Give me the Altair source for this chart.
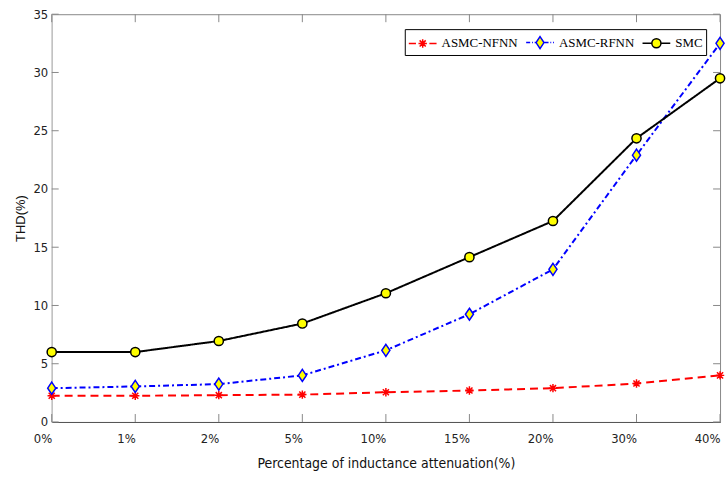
import altair as alt
import pandas as pd

# THD at each level of inductance attenuation, per controller
attenuation = ["0%", "1%", "2%", "5%", "10%", "15%", "20%", "30%", "40%"]
series_names = ["ASMC-NFNN", "ASMC-RFNN", "SMC"]
thd_nfnn = [2.25, 2.25, 2.3, 2.35, 2.55, 2.7, 2.9, 3.3, 4.0]
thd_rfnn = [2.9, 3.05, 3.25, 4.0, 6.15, 9.25, 13.1, 22.9, 32.5]
thd_smc = [6.0, 6.0, 6.95, 8.45, 11.05, 14.15, 17.25, 24.35, 29.5]
y_ticks = [0, 5, 10, 15, 20, 25, 30, 35]

W, H = 672, 410

rows = []
for name, vals in zip(series_names, [thd_nfnn, thd_rfnn, thd_smc]):
    for a, v in zip(attenuation, vals):
        rows.append({"Attenuation": a, "THD": v, "Series": name})
df = pd.DataFrame(rows)

line_colors = ["#ff0000", "#0000ff", "#000000"]
fill_colors = ["#ff0000", "#ffff00", "#ffff00"]
dashes = [[8, 5], [6, 3, 2, 3], [1, 0]]

# marker outlines in a unit square (drawn with size 784, i.e. 28 px across)
asterisk = "M-0.3,0L0.3,0M0,-0.3L0,0.3M-0.22,-0.22L0.22,0.22M-0.22,0.22L0.22,-0.22"
diamond = "M0,-0.43L0.29,0L0,0.43L-0.29,0Z"
circle = "M0.33,0A0.33,0.33,0,1,1,-0.33,0A0.33,0.33,0,1,1,0.33,0Z"
shapes = [asterisk, diamond, circle]

# legend keys (symbol size 324, i.e. 18 px square): a stretch of each line
# style, wider than the square, with the marker in the middle
k_ast = "M-0.47,0L0.47,0M0,-0.47L0,0.47M-0.34,-0.34L0.34,0.34M-0.34,0.34L0.34,-0.34"
k_dia = "M0,-0.67L0.44,0L0,0.67L-0.44,0Z"
k_cir = "M0.51,0A0.51,0.51,0,1,1,-0.51,0A0.51,0.51,0,1,1,0.51,0Z"
key_nfnn = "M-1.55,0L-0.75,0M0.75,0L1.55,0" + k_ast
key_rfnn = "M-1.55,0L-1.1,0M-0.9,0L-0.8,0M-0.6,0L-0.5,0M0.5,0L0.95,0M1.15,0L1.25,0M1.45,0L1.55,0" + k_dia
key_smc = "M-1.55,0L-0.51,0M0.51,0L1.55,0" + k_cir
legend_keys = [key_nfnn, key_rfnn, key_smc]
# the legend's own domain values; the trailing marker is stripped from the labels
legend_domain = [n + "~" for n in series_names]

SANS_NARROW = "'Liberation Sans Narrow', 'DejaVu Sans Condensed', 'Liberation Sans', sans-serif"

x_enc = alt.X(
    "Attenuation:N",
    sort=attenuation,
    scale=alt.Scale(type="point", padding=0, domain=attenuation),
    axis=alt.Axis(
        title="Percentage of inductance attenuation(%)",
        labelAngle=0,
        ticks=False,
        labelPadding=17,
        titlePadding=11,
        domainColor="#555555",
    ),
)
y_enc = alt.Y(
    "THD:Q",
    scale=alt.Scale(domain=[0, 35], nice=False),
    axis=alt.Axis(
        title="THD(%)",
        values=y_ticks,
        ticks=False,
        labelPadding=4,
        titlePadding=5,
        domainColor="#cccccc",
    ),
)

legend = alt.Legend(
    orient="none",
    legendX=355,
    legendY=15,
    direction="horizontal",
    title=None,
    symbolSize=324,
    symbolOffset=5,
    symbolStrokeWidth=1.5,
    labelFont="Liberation Serif",
    labelFontSize=13,
    labelColor="#000000",
    labelOffset=9,
    labelExpr="replace(datum.label, '~', '')",
    columnPadding=5,
    padding=3,
    strokeColor="#000000",
    fillColor="#ffffff",
)

lines = alt.Chart(df).mark_line(strokeWidth=2).encode(
    x=x_enc,
    y=y_enc,
    color=alt.Color(
        "Series:N",
        scale=alt.Scale(domain=series_names, range=line_colors),
        legend=None,
    ),
    strokeDash=alt.StrokeDash(
        "Series:N",
        scale=alt.Scale(domain=series_names, range=dashes),
        legend=None,
    ),
)

points = alt.Chart(df).mark_point(size=784, strokeWidth=1.5, opacity=1).encode(
    x=x_enc,
    y=y_enc,
    stroke=alt.Stroke(
        "Series:N",
        scale=alt.Scale(domain=series_names, range=line_colors),
        legend=None,
    ),
    fill=alt.Fill(
        "Series:N",
        scale=alt.Scale(domain=series_names, range=fill_colors),
        legend=None,
    ),
    shape=alt.Shape(
        "Series:N",
        scale=alt.Scale(domain=series_names, range=shapes),
        legend=None,
    ),
)

# legend-only layer: draws no marks, its scales carry the combined line+marker keys
legend_layer = (
    alt.Chart(df)
    .transform_filter("false")
    .mark_point(size=324, strokeWidth=1.5, opacity=1)
    .encode(
        x=x_enc,
        y=y_enc,
        stroke=alt.Stroke(
            "Series:N",
            scale=alt.Scale(domain=legend_domain, range=line_colors),
            legend=legend,
        ),
        fill=alt.Fill(
            "Series:N",
            scale=alt.Scale(domain=legend_domain, range=fill_colors),
            legend=legend,
        ),
        shape=alt.Shape(
            "Series:N",
            scale=alt.Scale(domain=legend_domain, range=legend_keys),
            legend=legend,
        ),
    )
)

# inward-pointing ticks on all four sides of the frame
ydf = pd.DataFrame({"THD": y_ticks})
xdf = pd.DataFrame({"Attenuation": attenuation})
tick_color = "#888888"
left_ticks = alt.Chart(ydf).mark_rule(color=tick_color).encode(
    y="THD:Q", x=alt.value(0), x2=alt.value(7)
)
right_ticks = alt.Chart(ydf).mark_rule(color=tick_color).encode(
    y="THD:Q", x=alt.value(W - 7), x2=alt.value(W)
)
bottom_ticks = alt.Chart(xdf).mark_rule(color=tick_color).encode(
    x=alt.X("Attenuation:N", sort=attenuation), y=alt.value(H - 8), y2=alt.value(H)
)
top_ticks = alt.Chart(xdf).mark_rule(color=tick_color).encode(
    x=alt.X("Attenuation:N", sort=attenuation), y=alt.value(0), y2=alt.value(8)
)

chart = (
    alt.layer(left_ticks, right_ticks, bottom_ticks, top_ticks, lines, points, legend_layer)
    .resolve_scale(shape="independent", stroke="independent", fill="independent")
    .properties(
        width=W,
        height=H,
        padding={"left": 15, "top": 7, "right": 0, "bottom": 0},
        background="#ffffff",
    )
    .configure_view(stroke="#888888", strokeWidth=1)
    .configure_axis(
        labelFont=SANS_NARROW,
        labelFontSize=13,
        labelColor="#222222",
        titleFontWeight="normal",
        titleColor="#111111",
        titleFont=SANS_NARROW,
        titleFontSize=14,
        grid=False,
    )
    .configure_axisY(titleFont="Liberation Sans", titleFontSize=13)
)

chart.save("out.html", embed_options={"renderer": "svg", "actions": False})
